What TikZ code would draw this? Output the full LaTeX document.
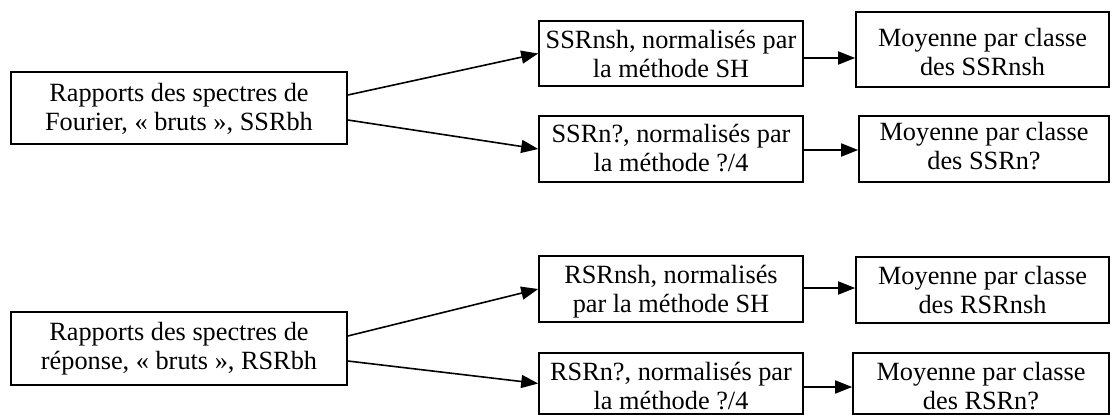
\documentclass[tikz,border=0pt]{standalone}
\usepackage{fontspec}
\setmainfont{Liberation Serif}
\usetikzlibrary{arrows.meta}
\tikzset{
  box/.style={draw=black, line width=1.6pt, rectangle, inner sep=0pt},
  txt/.style={align=center, inner sep=0pt, font=\fontsize{26.3}{29}\selectfont},
  arr/.style={line width=1.6pt, -{Triangle[length=17pt,width=13pt]}}
}
\begin{document}
\begin{tikzpicture}[x=1pt,y=-1pt]
\useasboundingbox (0,0) rectangle (1112,415);
% left boxes
\node[box, minimum width=336pt, minimum height=72pt] (B1) at (179,108) {};
\node[txt] (B1t) at (179,110) {\strut Rapports des spectres de\\\strut Fourier, « bruts », SSRbh};
\node[box, minimum width=336pt, minimum height=73pt] (B2) at (179,348.5) {};
\node[txt] (B2t) at (179,349) {\strut Rapports des spectres de\\\strut réponse, « bruts », RSRbh};
% middle boxes
\node[box, minimum width=264pt, minimum height=65pt] (M1) at (671,53.5) {};
\node[txt] (M1t) at (671,57.5) {\strut SSRnsh, normalisés par\\\strut la méthode SH};
\node[box, minimum width=264pt, minimum height=66pt] (M2) at (671,149) {};
\node[txt] (M2t) at (671,151) {\strut SSRn?, normalisés par\\\strut la méthode ?/4};
\node[box, minimum width=264pt, minimum height=66pt] (M3) at (671,289) {};
\node[txt] (M3t) at (671,292) {\strut RSRnsh, normalisés\\\strut par la méthode SH};
\node[box, minimum width=264pt, minimum height=61pt] (M4) at (671,383.5) {};
\node[txt] (M4t) at (671,389) {\strut RSRn?, normalisés par\\\strut la méthode ?/4};
% right boxes
\node[box, minimum width=253pt, minimum height=75pt] (R1) at (982.5,49.5) {};
\node[txt] (R1t) at (982.5,55) {\strut Moyenne par classe\\\strut des SSRnsh};
\node[box, minimum width=250pt, minimum height=66pt] (R2) at (984,149) {};
\node[txt] (R2t) at (984,149) {\strut Moyenne par classe\\\strut des SSRn?};
\node[box, minimum width=253pt, minimum height=66pt] (R3) at (982.5,290) {};
\node[txt] (R3t) at (982.5,293) {\strut Moyenne par classe\\\strut des RSRnsh};
\node[box, minimum width=256pt, minimum height=61pt] (R4) at (981,383.5) {};
\node[txt] (R4t) at (981,389) {\strut Moyenne par classe\\\strut des RSRn?};
% arrows from left boxes
\draw[arr] ([yshift=13pt]B1.east) -- (M1.west);
\draw[arr] ([yshift=-12pt]B1.east) -- (M2.west);
\draw[arr] ([yshift=12.5pt]B2.east) -- (M3.west);
\draw[arr] ([yshift=-12.5pt]B2.east) -- (M4.west);
% arrows middle to right
\coordinate (a1) at ([yshift=-4.5pt]M1.east);
\coordinate (a2) at ([yshift=-1pt]M2.east);
\coordinate (a3) at ([yshift=1pt]M3.east);
\coordinate (a4) at ([yshift=-3.5pt]M4.east);
\draw[arr] (a1) -- (a1 -| R1.west);
\draw[arr] (a2) -- (a2 -| R2.west);
\draw[arr] (a3) -- (a3 -| R3.west);
\draw[arr] (a4) -- (a4 -| R4.west);
\end{tikzpicture}
\end{document}
